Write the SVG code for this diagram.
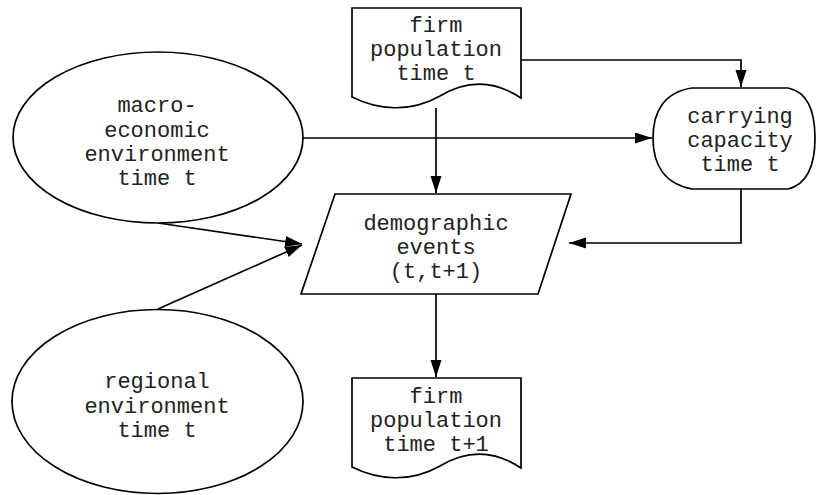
<svg xmlns="http://www.w3.org/2000/svg" width="816" height="495" viewBox="0 0 816 495">
<style>
.s{fill:#fff;stroke:#000;stroke-width:1.7}
.t{font-family:"Liberation Mono","Courier New",monospace;font-size:22px;fill:#222;text-anchor:middle}
.c{fill:none;stroke:#000;stroke-width:1.7}
</style>
<defs>
<marker id="ah" markerUnits="userSpaceOnUse" markerWidth="18" markerHeight="12" refX="17" refY="5.5" orient="auto">
<path d="M0,0 L17,5.5 L0,11 Z" fill="#000"/>
</marker>
</defs>
<rect width="816" height="495" fill="#fff"/>
<g id="connectors">
<path class="c" d="M521,60 H741 V87" marker-end="url(#ah)"/>
<path class="c" d="M303,138 H652" marker-end="url(#ah)"/>
<path class="c" d="M436,108 V193" marker-end="url(#ah)"/>
<path class="c" d="M436,294 V377" marker-end="url(#ah)"/>
<path class="c" d="M741,189 V243 H569" marker-end="url(#ah)"/>
<path class="c" d="M158,223 L302,244" marker-end="url(#ah)"/>
<path class="c" d="M158,309 L302,245" marker-end="url(#ah)"/>
</g>
<g id="firm-pop-t">
<path class="s" d="M352,8 H521 V98 C497,82 470,78 440,96 C410,113 378,110 352,97 Z"/>
<text class="t" x="436" y="32">firm</text>
<text class="t" x="436" y="56">population</text>
<text class="t" x="436" y="80">time t</text>
</g>
<g id="macro">
<ellipse class="s" cx="158" cy="137.5" rx="145" ry="85.5"/>
<text class="t" x="157" y="112">macro-</text>
<text class="t" x="157" y="137">economic</text>
<text class="t" x="157" y="161">environment</text>
<text class="t" x="157" y="185">time t</text>
</g>
<g id="carrying">
<path class="s" d="M692,88 L788,88 C808,92 815,112 815,138 C815,164 808,184 788,189 L692,189 C664,184 653,164 653,138 C653,112 664,92 692,88 Z"/>
<text class="t" x="740" y="123">carrying</text>
<text class="t" x="740" y="147">capacity</text>
<text class="t" x="740" y="171">time t</text>
</g>
<g id="demographic">
<path class="s" d="M335,194 H571 L538,294 H301 Z"/>
<text class="t" x="436" y="230">demographic</text>
<text class="t" x="436" y="254">events</text>
<text class="t" x="436" y="278">(t,t+1)</text>
</g>
<g id="regional">
<ellipse class="s" cx="157.5" cy="401.5" rx="145.5" ry="92"/>
<text class="t" x="157" y="388">regional</text>
<text class="t" x="157" y="413">environment</text>
<text class="t" x="157" y="437">time t</text>
</g>
<g id="firm-pop-t1">
<path class="s" d="M352,378 H521 V468 C497,452 470,448 440,466 C410,483 378,480 352,467 Z"/>
<text class="t" x="436" y="403">firm</text>
<text class="t" x="436" y="427">population</text>
<text class="t" x="436" y="451">time t+1</text>
</g>
</svg>
